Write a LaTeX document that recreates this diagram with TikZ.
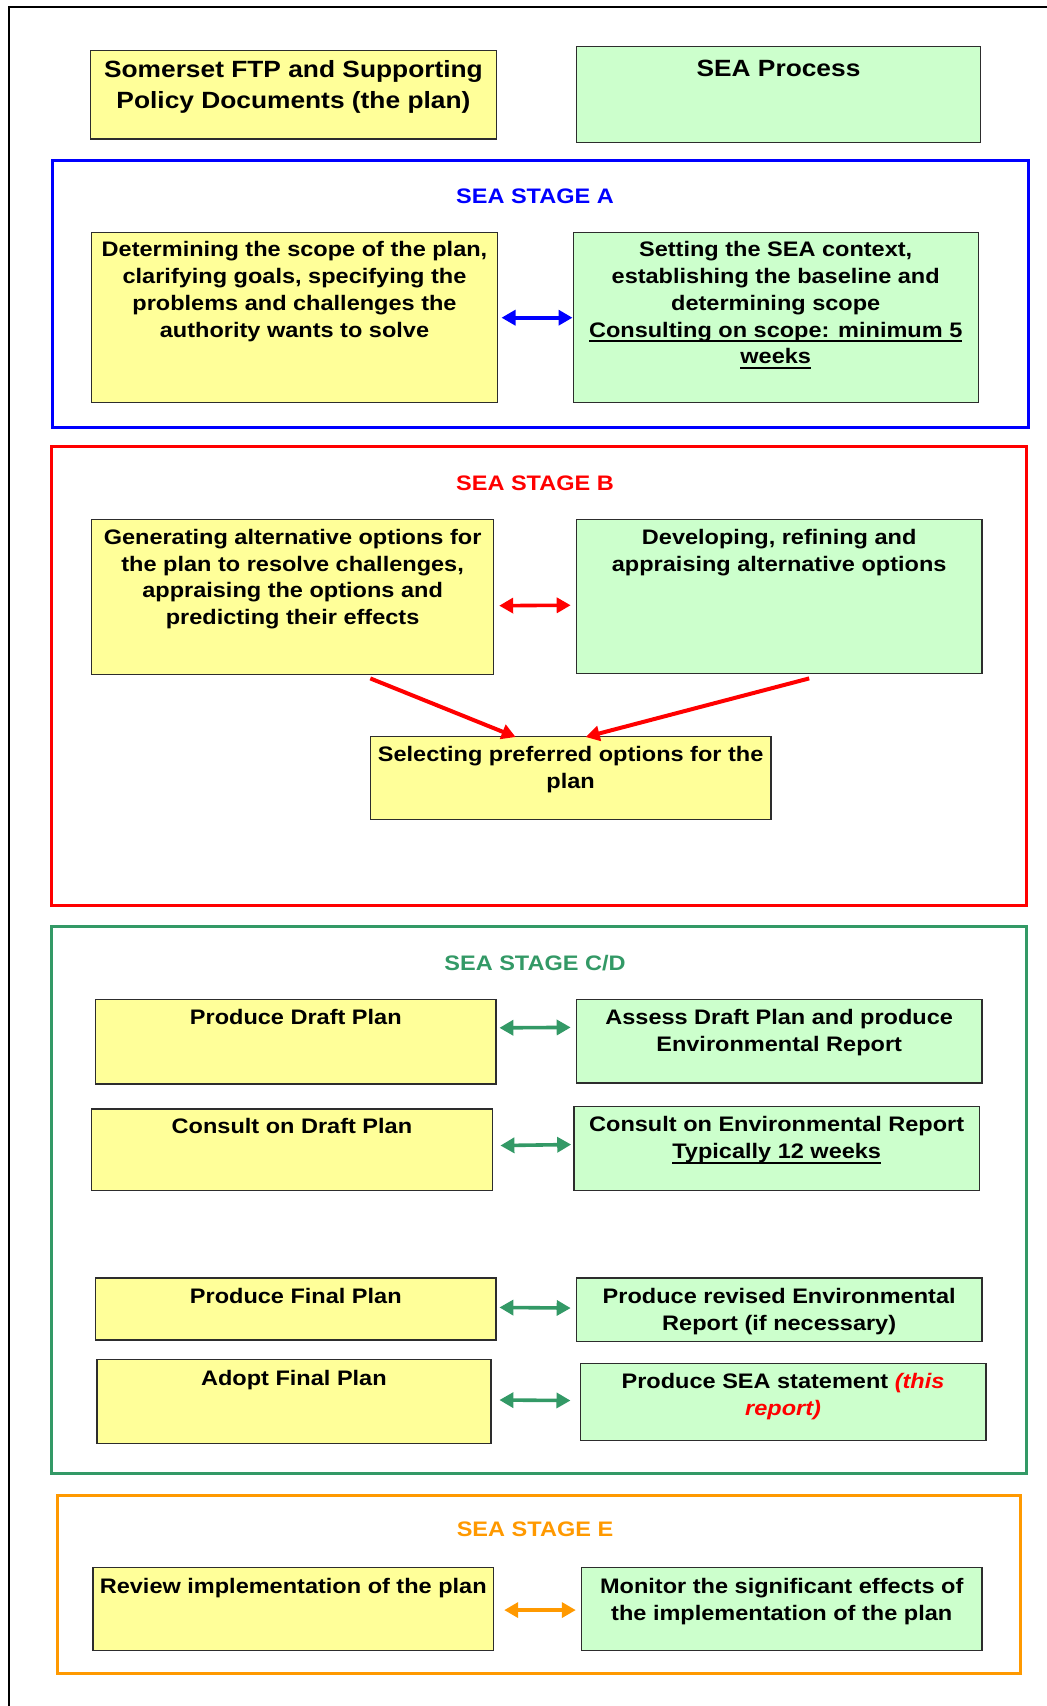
\documentclass[tikz,border=0pt]{standalone}
\usepackage{fontspec}
\setmainfont[FakeStretch=1.12]{Liberation Sans}
\usetikzlibrary{arrows.meta}
\definecolor{cyel}{RGB}{255,255,153}
\definecolor{cgrn}{RGB}{204,255,204}
\definecolor{cblue}{RGB}{0,0,255}
\definecolor{cred}{RGB}{255,0,0}
\definecolor{cteal}{RGB}{51,153,102}
\definecolor{corange}{RGB}{255,153,0}
\definecolor{cline}{RGB}{45,45,45}
\newsavebox\ulbox
\newcommand\myul[1]{\sbox\ulbox{#1}\rlap{\rule[-5pt]{\wd\ulbox}{1.8pt}}\usebox\ulbox}
\begin{document}
\begin{tikzpicture}[x=1pt,y=-1pt,
  bx/.style={draw=cline, line width=1.4pt, inner sep=0pt, anchor=north west},
  ybx/.style={bx, fill=cyel},
  gbx/.style={bx, fill=cgrn},
  tx/.style={anchor=north, align=center, inner sep=0pt, font=\bfseries\fontsize{21}{26.7}\selectfont},
  hd/.style={anchor=north, align=center, inner sep=0pt, font=\bfseries\fontsize{23.5}{31.5}\selectfont},
  ttl/.style={anchor=base, inner sep=0pt, font=\bfseries\fontsize{21}{26}\selectfont},
  frm/.style={line width=3pt, inner sep=0pt, anchor=north west},
  dbl/.style={{Triangle[length=14pt,width=15pt]}-{Triangle[length=14pt,width=15pt]}, line width=3.6pt},
  one/.style={-{Triangle[length=14pt,width=15pt]}, line width=4pt}
]
\useasboundingbox (0,0) rectangle (1047,1706);
\draw[line width=2pt] (9.3,1706) -- (9.3,7.3) -- (1047,7.3);

% header
\node[ybx, minimum width=405.5pt, minimum height=88.3pt] (p0) at (90,50) {};
\node[hd] (p0t) at ([yshift=-10pt]p0.north) {Somerset FTP and Supporting\\Policy Documents (the plan)};
\node[gbx, minimum width=404.4pt, minimum height=95.7pt] (s0) at (575.6,46) {};
\node[hd] (s0t) at ([yshift=-14pt]s0.north) {SEA Process};

% stage A
\node[frm, draw=cblue, minimum width=976pt, minimum height=267pt] (fa) at (51,159) {};
\node[ttl, text=cblue] (ta) at (535,203.3) {SEA STAGE A};
\node[ybx, minimum width=405.6pt, minimum height=170pt] (a1) at (91,232) {};
\node[tx] (a1t) at ([yshift=-9.5pt]a1.north) {Determining the scope of the plan,\\clarifying goals, specifying the\\problems and challenges the\\authority wants to solve};
\node[gbx, minimum width=405pt, minimum height=170pt] (a2) at (572.5,232) {};
\node[tx] (a2t) at ([yshift=-9.5pt]a2.north) {Setting the SEA context,\\establishing the baseline and\\determining scope\\\myul{Consulting on scope: minimum 5}\\\myul{weeks}};
\draw[dbl, cblue, shorten <=3.5pt] (a1.east) -- (a2.west);

% stage B
\node[frm, draw=cred, minimum width=975.7pt, minimum height=459pt] (fb) at (49.6,445) {};
\node[ttl, text=cred] (tb) at (535,490.7) {SEA STAGE B};
\node[ybx, minimum width=401.8pt, minimum height=155pt] (b1) at (91,519) {};
\node[tx] (b1t) at ([yshift=-10pt]b1.north) {Generating alternative options for\\the plan to resolve challenges,\\appraising the options and\\predicting their effects};
\node[gbx, minimum width=405.6pt, minimum height=154pt] (b2) at (575.7,519) {};
\node[tx] (b2t) at ([yshift=-10pt]b2.north) {Developing, refining and\\appraising alternative options};
\node[ybx, minimum width=400.5pt, minimum height=83pt] (b3) at (369.7,736) {};
\node[tx] (b3t) at ([yshift=-10.5pt]b3.north) {Selecting preferred options for the\\plan};
\draw[dbl, cred, shorten <=5pt, shorten >=5pt] ([yshift=-8.5pt]b1.east) -- ([yshift=-8.5pt]b2.west);
\draw[one, cred] ([xshift=77.7pt,yshift=-3pt]b1.south) -- ([xshift=-55pt,yshift=-1pt]b3.north);
\draw[one, cred] ([xshift=30pt,yshift=-4pt]b2.south) -- ([xshift=15pt,yshift=-1pt]b3.north);

% stage C/D
\node[frm, draw=cteal, minimum width=975.4pt, minimum height=547.6pt] (fc) at (49.6,924.7) {};
\node[ttl, text=cteal] (tc) at (535,970) {SEA STAGE C/D};
\node[ybx, minimum width=400.6pt, minimum height=84.3pt] (c1y) at (94.8,999) {};
\node[tx] (c1yt) at ([yshift=-10pt]c1y.north) {Produce Draft Plan};
\node[gbx, minimum width=405.6pt, minimum height=83.3pt] (c1g) at (575.7,999) {};
\node[tx] (c1gt) at ([yshift=-10pt]c1g.north) {Assess Draft Plan and produce\\Environmental Report};
\draw[dbl, cteal, shorten <=2.6pt, shorten >=5pt] ([yshift=14pt]c1y.east) -- ([yshift=14pt]c1g.west);

\node[ybx, minimum width=400.5pt, minimum height=81.7pt] (c2y) at (91,1108.3) {};
\node[tx] (c2yt) at ([yshift=-10pt]c2y.north) {Consult on Draft Plan};
\node[gbx, minimum width=405.6pt, minimum height=84pt] (c2g) at (573.2,1106) {};
\node[tx] (c2gt) at ([yshift=-10.5pt]c2g.north) {Consult on Environmental Report\\\myul{Typically 12 weeks}};
\draw[dbl, cteal, shorten <=7.5pt, shorten >=2pt] ([yshift=4.2pt]c2y.east) -- ([yshift=4.2pt]c2g.west);

\node[ybx, minimum width=400.6pt, minimum height=62pt] (c3y) at (94.8,1277.3) {};
\node[tx] (c3yt) at ([yshift=-11pt]c3y.north) {Produce Final Plan};
\node[gbx, minimum width=405.6pt, minimum height=63.4pt] (c3g) at (575.7,1277.3) {};
\node[tx] (c3gt) at ([yshift=-11pt]c3g.north) {Produce revised Environmental\\Report (if necessary)};
\draw[dbl, cteal, shorten <=2.6pt, shorten >=5pt] ([yshift=1.6pt]c3y.east) -- ([yshift=1.6pt]c3g.west);

\node[ybx, minimum width=394.2pt, minimum height=83.7pt] (c4y) at (96.1,1359) {};
\node[tx] (c4yt) at ([yshift=-11pt]c4y.north) {Adopt Final Plan};
\node[gbx, minimum width=405.7pt, minimum height=77pt] (c4g) at (579.5,1363) {};
\node[tx] (c4gt) at ([yshift=-10.5pt]c4g.north) {Produce SEA statement \textcolor{cred}{\itshape(this}\\\textcolor{cred}{\itshape report)}};
\draw[dbl, cteal, shorten <=7.7pt, shorten >=9pt] ([yshift=1.6pt]c4y.east) -- ([yshift=1.6pt]c4g.west);

% stage E
\node[frm, draw=corange, minimum width=963pt, minimum height=178pt] (fe) at (56,1494.3) {};
\node[ttl, text=corange] (te) at (535,1536) {SEA STAGE E};
\node[ybx, minimum width=400.5pt, minimum height=83.3pt] (e1y) at (92.3,1566.7) {};
\node[tx] (e1yt) at ([yshift=-11.5pt]e1y.north) {Review implementation of the plan};
\node[gbx, minimum width=400.5pt, minimum height=83.3pt] (e1g) at (580.8,1566.7) {};
\node[tx] (e1gt) at ([yshift=-11.5pt]e1g.north) {Monitor the significant effects of\\the implementation of the plan};
\draw[dbl, corange, shorten <=10pt, shorten >=5pt] ([yshift=-1pt]e1y.east) -- ([yshift=-1pt]e1g.west);
\end{tikzpicture}
\end{document}
